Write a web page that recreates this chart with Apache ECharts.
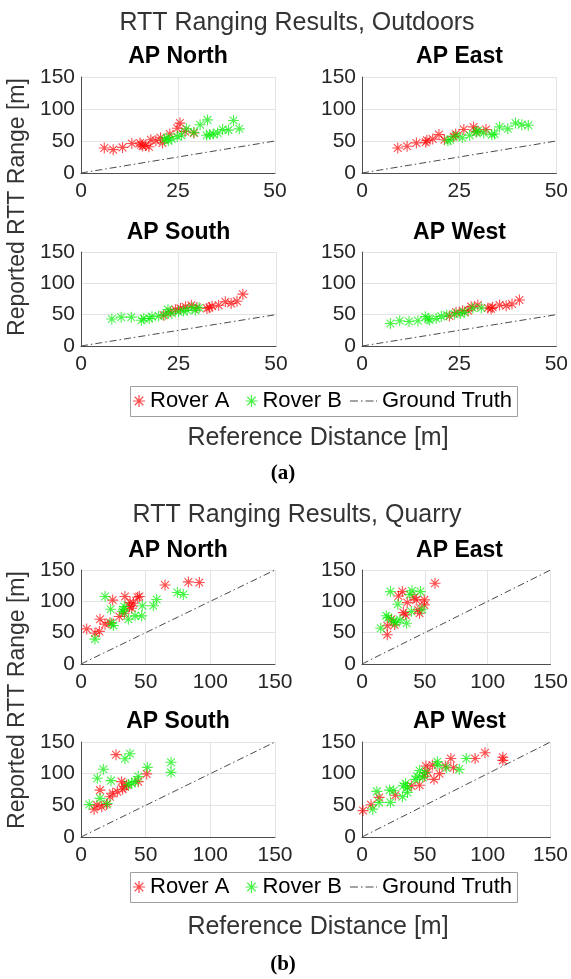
<!DOCTYPE html>
<html><head><meta charset="utf-8">
<script src="https://cdn.jsdelivr.net/npm/echarts@6/dist/echarts.min.js"></script>
<style>html,body{margin:0;padding:0;background:#fff}#c{width:571px;height:979px}</style>
</head><body><div id="c"></div><script>
// ---------------- data ----------------
const panelNames = ['AP North', 'AP East', 'AP South', 'AP West'];
const seriesNames = ['Rover A', 'Rover B', 'Ground Truth'];
const outdoorRange = [0, 50, 25];   // min, max, tick step (distance)
const quarryRange = [0, 150, 50];
const rangeAxis = [0, 150, 50];
const gtOutdoor = [[0, 0], [50, 50]];
const gtQuarry = [[0, 0], [150, 150]];

// Outdoors
const outNorthA = [[6.0,39],[8.3,36.5],[10.7,40],[13.1,46],[15.5,44],[15.9,42],[17.5,41],[18.0,52],[19.3,50.5],[20.5,55],[21.0,47],[22.9,61],[24.8,70],[25.5,78],[26.8,65],[29.1,62.5],[15.2,47],[16.7,43]];
const outNorthB = [[21.5,52],[22.5,50.5],[22.1,55],[23.4,53.6],[24.8,57],[25.9,59],[27.2,69],[29.1,63.5],[30.7,75.5],[32.6,83],[32.4,59],[33.2,60],[34.1,61],[35.2,62.5],[36.5,68],[38.0,67],[39.3,82],[40.8,69]];
const outEastA = [[9.2,39],[11.6,41.7],[14.0,47],[16.4,48],[16.7,51],[18.2,53],[19.8,60],[21.2,52],[23.6,57],[24.1,61],[26.2,68],[28.7,72],[29.4,65],[31.9,68]];
const outEastB = [[22.1,50.5],[22.7,52],[24.2,58],[25.8,55],[27.7,59],[29.4,63.5],[31.3,62.5],[33.4,60],[35.4,72],[37.5,69],[39.5,78],[41.1,75.5],[42.8,74.5],[29.8,66],[34.1,61]];
const outSouthA = [[21.2,49],[22.9,54.6],[24.2,58],[25.5,60],[26.8,62.5],[28.3,65],[29.7,61.5],[32.3,60],[33.6,63.6],[35.3,65],[37.0,70.5],[38.5,68],[40.0,71.5],[41.5,82.7],[32.9,61.5]];
const outSouthB = [[7.9,43],[10.3,46],[12.9,46],[15.5,41],[16.1,44],[17.5,44],[18.2,46.6],[19.9,47.7],[21.6,50],[22.3,58],[23.3,52],[25.0,54.6],[26.3,56],[27.2,57],[28.5,61],[30.3,61],[29.3,57]];
const outWestA = [[22.5,47.9],[24.2,53.7],[25.9,56.4],[28.1,62.8],[29.8,65.4],[32.4,60.6],[33.6,61.7],[35.4,65.4],[37.1,64.4],[38.6,67],[40.5,73.4],[27.3,56.4],[33.2,59.6]];
const outWestB = [[7.3,36],[9.7,40.4],[12.1,39],[14.4,40.4],[16.3,46.8],[17.0,43],[19.1,44],[20.4,47.3],[21.8,49.5],[23.8,51],[25.3,52],[26.4,53.7],[28.5,60.6],[30.7,60.6],[17.4,41.5]];

// Quarry
const quaNorthA = [[4.4,56],[10.8,49],[14.2,52],[14.7,71.5],[18.6,63.6],[22.4,66],[24.5,102],[29.6,75.8],[33.5,81],[34.0,107.6],[37.4,91.7],[39.2,89],[40.5,97],[43.8,106.5],[45.1,107.6],[65,126],[83,131],[91.5,130],[37.9,98]];
const quaNorthB = [[10.8,39.7],[18.6,107.6],[22.9,87.4],[23.7,65],[25.0,61.5],[32.7,86.4],[33.5,91.7],[36.6,71.5],[41.8,76.8],[46.9,76.8],[47.4,93],[55.9,93],[58.5,103],[74.5,114],[79.1,111],[32.2,83.7]];
const quaEastA = [[20.1,46.6],[20.1,61],[23.4,71.5],[26.0,62.5],[29.0,108.6],[32.1,115.5],[32.9,82],[34.7,78.4],[36.0,98],[41.4,106.5],[43.2,102.3],[44.5,86.4],[45.8,81],[49.6,102.3],[49.6,94.3],[58.1,128.8]];
const quaEastB = [[14.9,57],[19.3,77],[22.6,115.5],[25.2,68],[28.5,95.4],[30.3,70.5],[35.5,65],[38.0,111],[39.8,117],[39.3,83.7],[46.5,115.5],[47.8,87.4],[21.0,74],[27.0,66]];
const quaSouthA = [[10.1,44],[12.4,50.3],[14.7,74],[16.0,47.7],[19.8,51.4],[22.4,63.6],[24.5,69],[27.1,130],[28.1,71.5],[31.4,87.4],[32.2,75.3],[34.0,79.5],[44.3,87.4],[50.8,99.6],[35.3,82]];
const quaSouthB = [[6.4,51.4],[12.6,92.7],[14.7,61],[17.3,107],[20.4,53],[23.2,89],[34.0,123.5],[37.9,131.5],[36.6,82.7],[41.8,87.4],[44.3,95.4],[51.3,110],[69.6,118],[69.6,102],[39.2,85]];
const quaWestA = [[0.8,41.7],[7.2,51],[13.6,62.5],[26.5,66],[39.3,80.7],[45.8,81.8],[50.9,112],[52.2,102.6],[56.0,113.5],[57.3,91],[61.7,100],[66.3,112],[70.7,124],[72.8,109.4],[90.0,124],[97.9,133],[112.1,126],[112.1,121],[49.6,96]];
const quaWestB = [[8.5,44],[11.8,72],[13.6,54.7],[21.9,74],[22.6,54.7],[25.2,73],[32.2,63.5],[32.9,80.7],[34.7,84.4],[36.2,70.3],[42.4,91],[45.8,105],[48.3,93.8],[59.9,118.8],[60.4,113.5],[67.1,109.4],[77.4,106.8],[83.0,124],[36.2,78],[43.9,96],[50.1,101.6]];

const panelData = [
  [outNorthA, outNorthB, gtOutdoor, outdoorRange],
  [outEastA, outEastB, gtOutdoor, outdoorRange],
  [outSouthA, outSouthB, gtOutdoor, outdoorRange],
  [outWestA, outWestB, gtOutdoor, outdoorRange],
  [quaNorthA, quaNorthB, gtQuarry, quarryRange],
  [quaEastA, quaEastB, gtQuarry, quarryRange],
  [quaSouthA, quaSouthB, gtQuarry, quarryRange],
  [quaWestA, quaWestB, gtQuarry, quarryRange]
];

// ---------------- layout / style ----------------
const FONT = '"Liberation Sans", Arial, Helvetica, sans-serif';
const gridBoxes = [
  [81, 77, 194, 96], [362, 77, 195, 96], [81, 252, 195, 94], [362, 252, 195, 94],
  [81, 570, 194, 94], [362, 570, 195, 94], [81, 742, 194, 95], [362, 742, 195, 95]
];
const titleY = [57, 57, 233, 233, 551, 551, 722, 722];
const STAR = 'path://M9 0L11 0L11 20L9 20Z M0 9L20 9L20 11L0 11Z M3.64 2.22L17.78 16.36L16.36 17.78L2.22 3.64Z M16.36 2.22L17.78 3.64L3.64 17.78L2.22 16.36Z';
const DASHDOT = 'path://M0 0L8 0L8 1L0 1Z M11 0L12.5 0L12.5 1L11 1Z M15.5 0L23.5 0L23.5 1L15.5 1Z M26 0L27 0L27 1L26 1Z';
const RED = '#ff0000', GREEN = '#00f000', TXT = '#262626', GT = '#4a4a4a';

const grid = [], xAxis = [], yAxis = [], series = [], graphic = [];
gridBoxes.forEach((b, i) => {
  grid.push({left: b[0], top: b[1], width: b[2], height: b[3], containLabel: false});
  const rng = panelData[i][3];
  const axisCommon = {
    gridIndex: i,
    axisLine: {show: true, lineStyle: {color: '#4d4d4d', width: 1}},
    axisTick: {show: false},
    splitLine: {show: true, lineStyle: {color: '#e3e3e3', width: 1}},
    axisLabel: {color: TXT, fontFamily: FONT, fontSize: 21}
  };
  xAxis.push(Object.assign({}, axisCommon, {type: 'value', min: rng[0], max: rng[1], interval: rng[2],
    axisLabel: Object.assign({}, axisCommon.axisLabel, {margin: 8, showMaxLabel: true, showMinLabel: true})}));
  yAxis.push(Object.assign({}, axisCommon, {type: 'value', min: rangeAxis[0], max: rangeAxis[1], interval: rangeAxis[2],
    axisLabel: Object.assign({}, axisCommon.axisLabel, {margin: 6})}));
  series.push({name: seriesNames[0], type: 'scatter', xAxisIndex: i, yAxisIndex: i, data: panelData[i][0],
    symbol: STAR, symbolSize: 11, itemStyle: {color: RED, opacity: 0.7}, z: 3});
  series.push({name: seriesNames[1], type: 'scatter', xAxisIndex: i, yAxisIndex: i, data: panelData[i][1],
    symbol: STAR, symbolSize: 11, itemStyle: {color: GREEN, opacity: 0.7}, z: 3});
  series.push({name: seriesNames[2], type: 'line', xAxisIndex: i, yAxisIndex: i, data: panelData[i][2],
    showSymbol: false, symbol: 'none', lineStyle: {color: GT, width: 1, type: [7, 3, 1.5, 3]},
    itemStyle: {color: GT}, z: 2, silent: true});
  graphic.push({type: 'text', x: b[0] + b[2] / 2, y: titleY[i], style: {text: panelNames[i % 4],
    font: 'bold 23px ' + FONT, fill: '#000', align: 'center', verticalAlign: 'middle'}});
});

function addSection(label, titleText, titleYpos, ylabY, legY, xlabY, subY) {
  graphic.push({type: 'text', x: 297, y: titleYpos, style: {text: titleText, font: '25px ' + FONT, fill: '#333', align: 'center', verticalAlign: 'middle'}});
  graphic.push({type: 'text', x: 18, y: ylabY, rotation: Math.PI / 2, style: {text: 'Reported RTT Range [m]', font: '23px ' + FONT, fill: '#333', align: 'center', verticalAlign: 'middle'}});
  graphic.push({type: 'rect', shape: {x: 130.5, y: legY - 15.5, width: 387, height: 30}, style: {fill: '#fff', stroke: '#a0a0a0', lineWidth: 1}, z: -1});
  graphic.push({type: 'text', x: 318, y: xlabY, style: {text: 'Reference Distance [m]', font: '25px ' + FONT, fill: '#333', align: 'center', verticalAlign: 'middle'}});
  graphic.push({type: 'text', x: 283, y: subY, style: {text: label, font: 'bold 21px "Liberation Serif", "Times New Roman", serif', fill: '#000', align: 'center', verticalAlign: 'middle'}});
}
addSection('(a)', 'RTT Ranging Results, Outdoors', 23, 207, 402, 438, 474);
addSection('(b)', 'RTT Ranging Results, Quarry', 515, 700, 888, 927, 965);

const legTxt = {color: '#000', fontFamily: FONT, fontSize: 22};
const legend = [];
[402, 888].forEach(cy => {
  legend.push({left: 133, top: cy - 12, padding: 0, itemWidth: 12, itemHeight: 12, itemGap: 16,
    data: [{name: 'Rover A', icon: STAR}, {name: 'Rover B', icon: STAR}], textStyle: legTxt, selectedMode: false});
  legend.push({left: 350, top: cy - 12, padding: 0, itemWidth: 27, itemHeight: 1, itemGap: 0, symbolKeepAspect: false,
    data: [{name: 'Ground Truth', icon: DASHDOT, itemStyle: {color: GT}}], textStyle: legTxt, selectedMode: false});
});

const chart = echarts.init(document.getElementById('c'), null, {renderer: 'canvas'});
chart.setOption({animation: false, backgroundColor: '#fff', grid, xAxis, yAxis, series, graphic, legend});
</script></body></html>
